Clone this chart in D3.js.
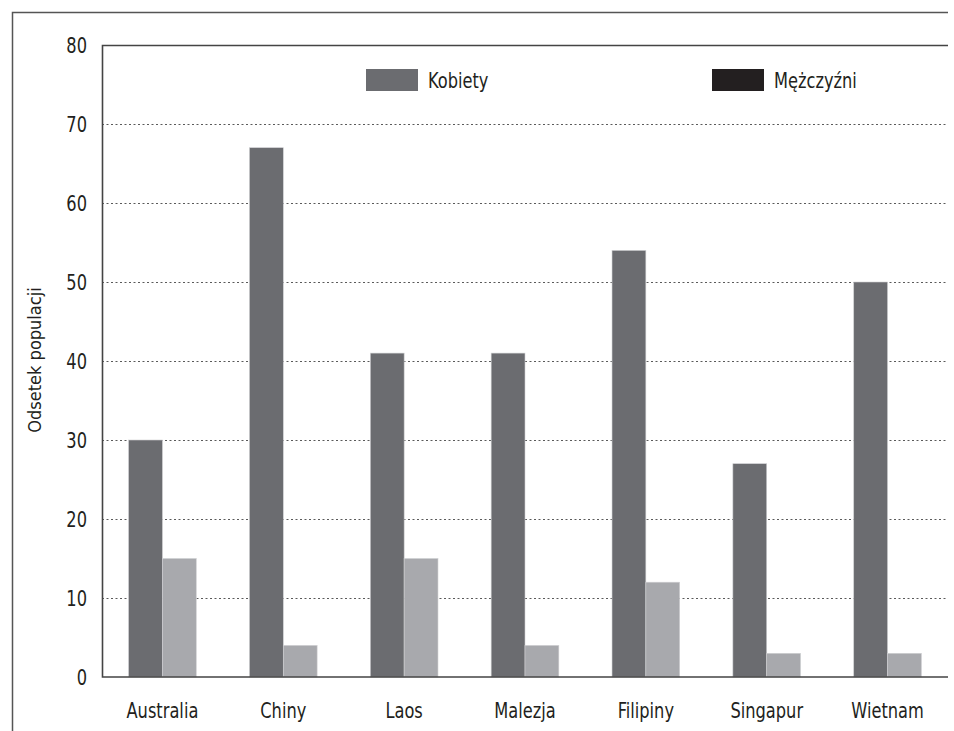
<!DOCTYPE html>
<html>
<head>
<meta charset="utf-8">
<script src="https://cdn.jsdelivr.net/npm/d3@7"></script>
<style>
	body { margin: 0; background: #fff; }
	svg text { font-family: "DejaVu Sans Condensed", "Liberation Sans Narrow", sans-serif; fill: #231f20; }
</style>
</head>
<body>
<svg id="chart" width="954" height="731"></svg>
<script>
// values
const categories = ["Australia", "Chiny", "Laos", "Malezja", "Filipiny", "Singapur", "Wietnam"];
const kobiety = [30, 67, 41, 41, 54, 27, 50];
const mezczyzni = [15, 4, 15, 4, 12, 3, 3];
const seriesNames = ["Kobiety", "Mężczyźni"];
const barColors = ["#6b6c70", "#a8a9ad"];
const legendColors = ["#6b6c70", "#231f20"];
const yTicks = [0, 10, 20, 30, 40, 50, 60, 70, 80];
const yTitle = "Odsetek populacji";

var svg = d3.select("#chart"),
	margin = {top: 45, right: 6, bottom: 54, left: 102},
	width = +svg.attr("width") - margin.left - margin.right,
	height = +svg.attr("height") - margin.top - margin.bottom;

// the original font is a tall condensed face, so squeeze the text a bit
var labelScale = 0.86,
	legendScale = 0.82;

// outer frame (left + top only, rest is cut off)
svg.append("path")
	.attr("d", "M12.5,731 L12.5,12.5 L948,12.5")
	.attr("fill", "none")
	.attr("stroke", "#555")
	.attr("stroke-width", 1.5);

var g = svg.append("g").attr("transform", "translate(" + margin.left + "," + margin.top + ")");

var x0 = d3.scaleBand()
	.domain(categories)
	.range([0, width])
	.paddingInner(0.44)
	.paddingOuter(0.22);

var x1 = d3.scaleBand()
	.domain(seriesNames)
	.range([0, x0.bandwidth()]);

var y = d3.scaleLinear()
	.domain([0, 80])
	.range([height, 0]);

// dotted gridlines
g.append("g")
	.attr("class", "grid")
	.selectAll("line")
	.data(yTicks.filter(function(d) { return d > 0 && d < 80; }))
	.enter().append("line")
	.attr("x1", 0)
	.attr("x2", width)
	.attr("y1", function(d) { return Math.round(y(d)) + 0.5; })
	.attr("y2", function(d) { return Math.round(y(d)) + 0.5; })
	.attr("stroke", "#5a5a5a")
	.attr("stroke-width", 1)
	.attr("stroke-dasharray", "2,2.5");

// bars
var rows = categories.map(function(c, i) {
	return {cat: c, values: [kobiety[i], mezczyzni[i]]};
});

var group = g.append("g")
	.selectAll("g")
	.data(rows)
	.enter().append("g")
	.attr("transform", function(d) { return "translate(" + x0(d.cat) + ",0)"; });

group.selectAll("rect")
	.data(function(d) { return d.values.map(function(v, i) { return {key: seriesNames[i], value: v, i: i}; }); })
	.enter().append("rect")
	.attr("x", function(d) { return x1(d.key); })
	.attr("width", x1.bandwidth())
	.attr("y", function(d) { return y(d.value); })
	.attr("height", function(d) { return height - y(d.value); })
	.attr("fill", function(d) { return barColors[d.i]; })
	.attr("stroke", "#cfd0d2")
	.attr("stroke-width", 0.6);

// frame of plot: top, left, bottom
g.append("path")
	.attr("d", "M" + width + ",0.5 L0.5,0.5 L0.5," + height + " L" + width + "," + height)
	.attr("fill", "none")
	.attr("stroke", "#444")
	.attr("stroke-width", 1.6);

// y axis labels
var yAxis = g.append("g")
	.call(d3.axisLeft(y).tickValues(yTicks).tickSize(0));
yAxis.select(".domain").remove();
yAxis.selectAll("text")
	.style("font-size", "21px")
	.attr("x", -15 / labelScale)
	.attr("dy", "0.36em")
	.attr("transform", "scale(" + labelScale + ",1)");

// x axis labels
var xAxis = g.append("g")
	.attr("transform", "translate(0," + height + ")")
	.call(d3.axisBottom(x0).tickSize(0));
xAxis.select(".domain").remove();
xAxis.selectAll("text")
	.style("font-size", "21px")
	.attr("y", 41)
	.attr("dy", 0)
	.attr("transform", "scale(" + labelScale + ",1)");

// y axis title
svg.append("text")
	.attr("transform", "translate(41,360) rotate(-90)")
	.attr("text-anchor", "middle")
	.style("font-size", "18px")
	.text(yTitle);

// legend
var legendX = [366, 712];
var legend = svg.append("g")
	.selectAll("g")
	.data(seriesNames)
	.enter().append("g")
	.attr("transform", function(d, i) { return "translate(" + legendX[i] + ",69)"; });

legend.append("rect")
	.attr("width", 52)
	.attr("height", 22)
	.attr("fill", function(d, i) { return legendColors[i]; });

legend.append("text")
	.attr("transform", "translate(62,19) scale(" + legendScale + ",1)")
	.style("font-size", "22px")
	.text(function(d) { return d; });
</script>
</body>
</html>
